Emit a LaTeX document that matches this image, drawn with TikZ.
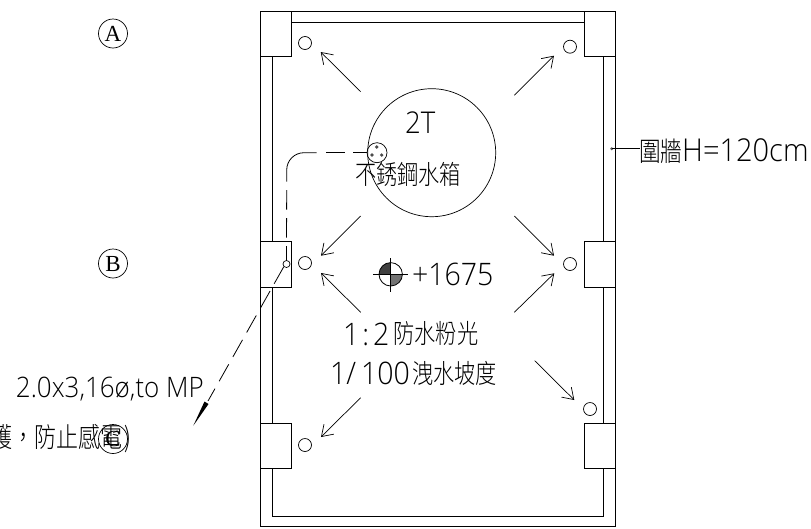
\documentclass[tikz,border=0pt]{standalone}
\usepackage{fontspec}
\setmainfont{Liberation Sans}
\newfontfamily\thinlat{Open Sans}[UprightFont=* Light,FakeStretch=.92]
\newfontfamily\cjk{Noto Sans CJK TC}[UprightFont=* Light,FakeStretch=.8]
\newfontfamily\gridfont{Liberation Serif}
\usetikzlibrary{arrows.meta}
\tikzset{
 wall/.style={draw=black,line width=1pt},
 flow/.style={draw=black,line width=.7pt,-{Straight Barb[length=10.5pt,width=14pt,line width=.7pt]}},
 pipe/.style={draw=black,line width=.8pt},
 drain/.style={circle,draw=black,line width=.7pt,minimum size=13pt,inner sep=0pt},
 label/.style={inner sep=0pt,outer sep=0pt,anchor=base west},
 grid/.style={circle,draw=black,line width=.7pt,minimum size=29pt,inner sep=0pt,font=\fontsize{23}{23}\gridfont\selectfont},
}
\begin{document}
\begin{tikzpicture}[x=1pt,y=-1pt]
\clip (0,0) rectangle (811,528);
\fill[white] (0,0) rectangle (811,528);
% walls
\draw[wall] (260,11) rectangle (615,526);
\draw[wall] (291,22) -- (584,22);
\draw[wall] (272,56.5) -- (272,241.7) (272,287) -- (272,423) (272,468) -- (272,516) -- (603,516) -- (603,468) (603,423) -- (603,287) (603,241.7) -- (603,56.5);
% columns
\draw[wall] (260,11) rectangle (291,56.5);
\draw[wall] (584,11) rectangle (615,56.5);
\draw[wall] (260,241.7) rectangle (291,287);
\draw[wall] (584,241.7) rectangle (615,287);
\draw[wall] (260,423) rectangle (291,468);
\draw[wall] (584,423) rectangle (615,468);
% drains
\node[drain] (d1) at (305,43) {};
\node[drain] (d2) at (570,46.7) {};
\node[drain] (d3) at (305,263) {};
\node[drain] (d4) at (570,264) {};
\node[drain] (d5) at (590,409) {};
\node[drain] (d6) at (305,445) {};
% falls
\draw[flow] (360.7,91.7) -- (320.7,52);
\draw[flow] (514.3,95.3) -- (554,55.7);
\draw[flow] (360.7,216) -- (321,255.7);
\draw[flow] (514.3,216) -- (554,255.7);
\draw[flow] (360.7,312.3) -- (321,273);
\draw[flow] (514.3,312.3) -- (554.3,273.3);
\draw[flow] (360.7,397.7) -- (321,437);
\draw[flow] (534.7,360.7) -- (574.3,400);
% tank
\node[circle,draw=black,line width=.7pt,minimum size=128pt,inner sep=0pt] (tank) at (431.7,152.7) {};
\node[circle,draw=black,line width=.7pt,minimum size=20pt,inner sep=0pt] (outlet) at (377,152.7) {};
\fill[black!70] (376.7,147) circle (1.8) (372,155) circle (1.8) (381.7,155) circle (1.8);
% conduit
\node[circle,draw=black,line width=.7pt,minimum size=7pt,inner sep=0pt] (bend) at (286.5,264) {};
\coordinate (h1) at (316.7,152.7);
\coordinate (v1) at (286.7,181.6);
\draw[pipe,dash pattern=on 14pt off 8pt on 19pt off 9pt] (outlet.west) -- (h1);
\draw[pipe] (h1) -- (304,152.7) to[out=180,in=90] (286.7,170) -- (v1);
\draw[pipe,dash pattern=on 19.5pt off 8.5pt,dash phase=19.5pt] (v1) -- (bend.north);
\coordinate (tip) at (193.3,425.7);
\draw[pipe,dash pattern=on 19.5pt off 8.5pt] (bend.south west) -- (208,401);
\fill[black] (tip) -- (204.5,401.5) -- (208.5,404) -- cycle;
% level mark
\fill[black!75] (390.7,274.3) -- (379,274.3) arc (180:270:11.7) -- cycle;
\fill[black!55] (390.7,274.3) -- (402.4,274.3) arc (0:90:11.7) -- cycle;
\node[circle,draw=black,line width=.8pt,minimum size=23.4pt,inner sep=0pt] (level) at (390.7,274.3) {};
\draw[black,line width=.7pt] (373,274.3) -- (408,274.3) (390.7,258) -- (390.7,292);
% leader
\coordinate (wallpt) at (611.7,148.7);
\fill[black!65] (wallpt) circle (1.6);
\draw[black,line width=.7pt] (wallpt) -- (640,148.7);
% texts
\node[label] (t2t) at (405,133) {\thinlat\fontsize{30}{30}\selectfont 2T};
\node[label] (ttank) at (355,184) {\cjk\fontsize{26.5}{26.5}\selectfont 不銹鋼水箱};
\node[label] (tlevel) at (412,285) {\thinlat\fontsize{31}{31}\selectfont +1675};
\node[label] (t12a) at (343,345) {\thinlat\fontsize{31}{31}\selectfont 1\kern3pt:\kern4pt2};
\node[label] (t12c) at (393.5,343) {\cjk\fontsize{26.5}{26.5}\selectfont 防水粉光};
\node[label] (t12b) at (330,384) {\thinlat\fontsize{31}{31}\selectfont 1/\kern5pt100};
\node[label] (t12d) at (412,383) {\cjk\fontsize{26.5}{26.5}\selectfont 洩水坡度};
\node[label] (twall) at (639,161) {\cjk\fontsize{27}{27}\selectfont 圍牆\thinlat\fontsize{31.5}{31.5}\selectfont H=120cm};
\node[label] (tspec) at (16,397) {\thinlat\fontsize{28.2}{28.2}\selectfont 2.0x3,16ø,to MP};
\node[inner sep=0pt,anchor=base east] (tnote) at (132,447.5) {\cjk\fontsize{27.5}{27.5}\selectfont 護，防止感電\kern2pt)};
% grid bubbles
\node[grid] (ga) at (113,33.5) {A};
\node[grid] (gb) at (113,263.5) {B};
\node[grid] (gc) at (113,439) {C};
\end{tikzpicture}
\end{document}
